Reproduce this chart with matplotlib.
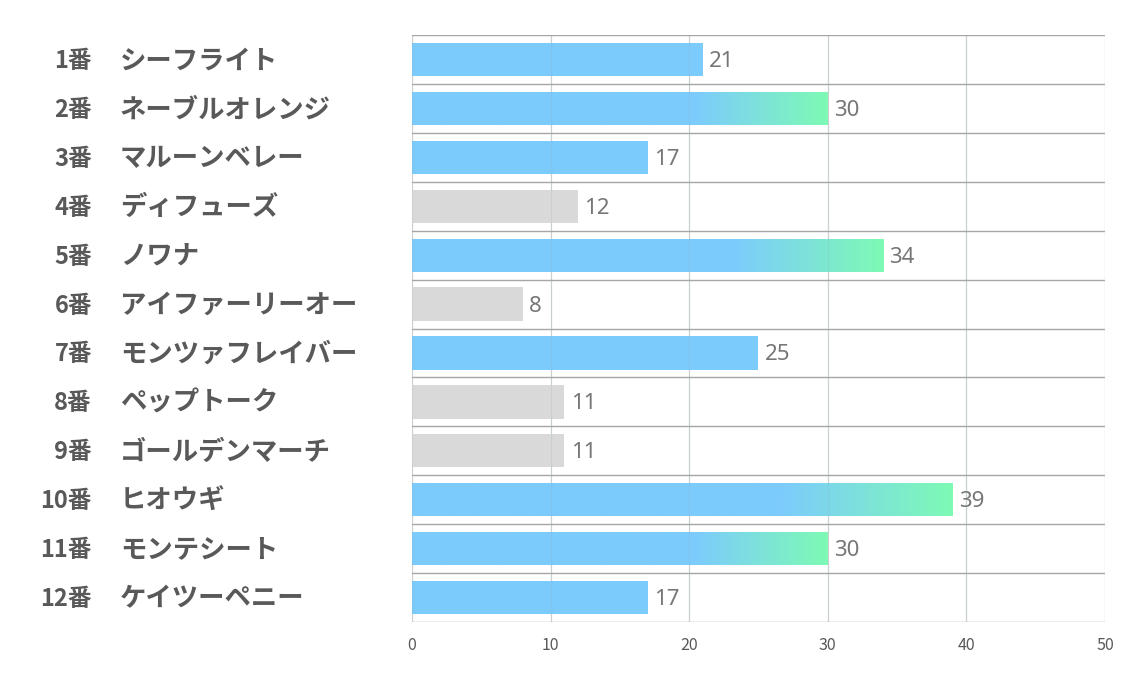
import numpy as np
import matplotlib
matplotlib.use('Agg')
import matplotlib.pyplot as plt
from matplotlib.colors import LinearSegmentedColormap

plt.rcParams['font.family'] = ['Noto Sans CJK JP', 'DejaVu Sans']

# data
numbers = ['1番', '2番', '3番', '4番', '5番', '6番', '7番', '8番', '9番', '10番', '11番', '12番']
names = ['シーフライト', 'ネーブルオレンジ', 'マルーンベレー', 'ディフューズ', 'ノワナ',
         'アイファーリーオー', 'モンツァフレイバー', 'ペップトーク', 'ゴールデンマーチ',
         'ヒオウギ', 'モンテシート', 'ケイツーペニー']
values = [21, 30, 17, 12, 34, 8, 25, 11, 11, 39, 30, 17]
kind = ['blue', 'grad', 'blue', 'gray', 'grad', 'gray', 'blue', 'gray', 'gray', 'grad', 'grad', 'blue']

blue = '#7ccbfd'
green = '#7efab5'
gray = '#d9d9d9'
bar_h = 0.68

fig = plt.figure(figsize=(11.34, 6.8), dpi=100)
ax = fig.add_axes([0.3633, 0.0853, 0.6111, 0.8632])

n = len(values)
ypos = np.arange(n)
# blue for the first 70% of the bar, then fade to green
cmap = LinearSegmentedColormap.from_list('bg', [(0, blue), (0.68, blue), (1, green)])
grad = np.linspace(0, 1, 512).reshape(1, -1)

for y, v, k in zip(ypos, values, kind):
    col = gray if k == 'gray' else blue
    bar = ax.barh(y, v, height=bar_h, color=col, zorder=2)[0]
    if k == 'grad':
        im = ax.imshow(grad, cmap=cmap, extent=(0, v, y + bar_h / 2, y - bar_h / 2),
                       aspect='auto', zorder=3, interpolation='bilinear')
        im.set_clip_path(bar)
    ax.text(v + 0.45, y + 0.04, str(v), va='center', ha='left', fontsize=16,
            color='#767676', family=['Noto Sans', 'DejaVu Sans'])

ax.set_xlim(0, 50)
ax.set_ylim(n - 0.5, -0.5)
ax.set_xticks(np.arange(0, 51, 10))
ax.tick_params(axis='x', length=0, labelsize=11.5, labelcolor='#595959', pad=11)
ax.set_yticks([])
for sp in ax.spines.values():
    sp.set_visible(False)

# vertical grid, faintly visible through the bars
for xv in np.arange(0, 51, 10):
    ax.axvline(xv, color='#d9d9d9', lw=0.9, zorder=1)
    ax.axvline(xv, color='#90a8b8', lw=0.8, alpha=0.2, zorder=4)
# row separators
for yb in np.arange(-0.5, n, 1.0):
    ax.axhline(yb, color='#a6a6a6', lw=1.0, zorder=1)

tr = ax.get_yaxis_transform()
for y, num, nm in zip(ypos, numbers, names):
    ax.text(-0.4618, y + 0.03, num, transform=tr, ha='right', va='center',
            fontsize=17, fontweight='bold', color='#595959')
    ax.text(-0.4214, y + 0.03, nm, transform=tr, ha='left', va='center',
            fontsize=19, fontweight='bold', color='#595959')

fig.savefig('out.png', dpi=100)
